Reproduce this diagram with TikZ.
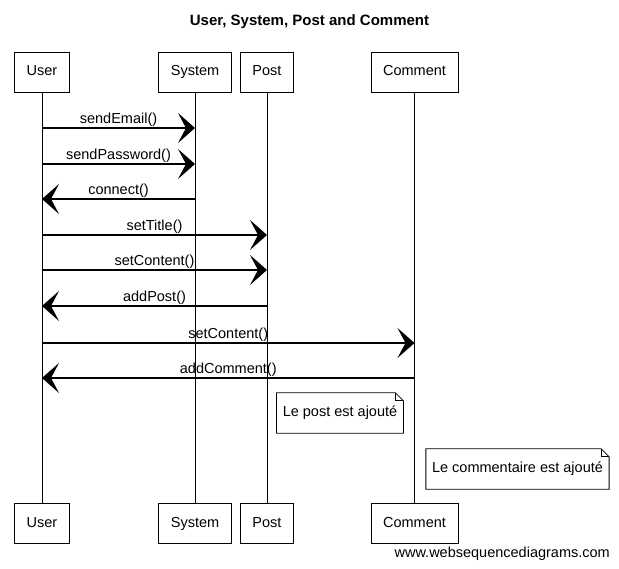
\documentclass[tikz,border=0pt]{standalone}
\usepackage{fontspec}
\setmainfont{Liberation Sans}
\usetikzlibrary{calc}
\usetikzlibrary{arrows.meta}
\tikzset{
  actor/.style= {draw, line width=0.8pt, minimum height=40pt, inner xsep=12pt, text height=10.5pt, text depth=3pt},
  note/.style= {inner xsep=6pt, minimum height=40pt, text height=10.5pt, text depth=3pt},
  message/.style= {line width=1.2pt, -{Stealth[length=17pt, width=30pt, inset=8pt]}},
  msglabel/.style= {midway, above, inner sep=1pt},
  lifeline/.style= {line width=0.8pt},
}
\newcommand\dogear[1]{%
  \draw [line width=0.8pt] (#1.north west) -- ($(#1.north east)+(-8,0)$) -- ($(#1.north east)+(0,8)$)
    -- (#1.south east) -- (#1.south west) -- cycle;
  \draw [line width=0.8pt] ($(#1.north east)+(-8,0)$) -- ($(#1.north east)+(-8,8)$) -- ($(#1.north east)+(0,8)$);
}

\begin{document}
\begin{tikzpicture}[x=1pt, y=-1pt, every node/.style={font=\fontsize{14.5}{17}\selectfont}]
  \useasboundingbox (0,0) rectangle (619,569);

  \node [font=\fontsize{15}{18}\bfseries\selectfont] (title) at (309.5,22) {User, System, Post and Comment};

  \node [actor] (userTop) at (42,72) {User} ;
  \node [actor] (sysTop) at (195,72) {System} ;
  \node [actor] (postTop) at (267,72) {Post} ;
  \node [actor] (commentTop) at (414.5,72) {Comment} ;
  \node [actor] (userBot) at (42,523.5) {User} ;
  \node [actor] (sysBot) at (195,523.5) {System} ;
  \node [actor] (postBot) at (267,523.5) {Post} ;
  \node [actor] (commentBot) at (414.5,523.5) {Comment} ;

  \foreach \who in {user, sys, post, comment}
    \draw [lifeline] (\who Top) -- (\who Bot);

  \foreach \src/\dst/\y/\msg in {user/sys/128/sendEmail(), user/sys/164/sendPassword(),
      sys/user/199/connect(), user/post/235/setTitle(), user/post/270/setContent(),
      post/user/306/addPost(), user/comment/343/setContent(), comment/user/378/addComment()}
    \draw [message] (\src Top |- 0,\y) -- node [msglabel] {\msg} (\dst Top |- 0,\y);

  \node [note] (postNote) at (340,413) {Le post est ajouté} ;
  \node [note] (commentNote) at (517.5,469) {Le commentaire est ajouté} ;
  \dogear{postNote}
  \dogear{commentNote}

  \node [anchor=east, inner sep=0pt] (footer) at (610,554) {www.websequencediagrams.com} ;
\end{tikzpicture}
\end{document}
